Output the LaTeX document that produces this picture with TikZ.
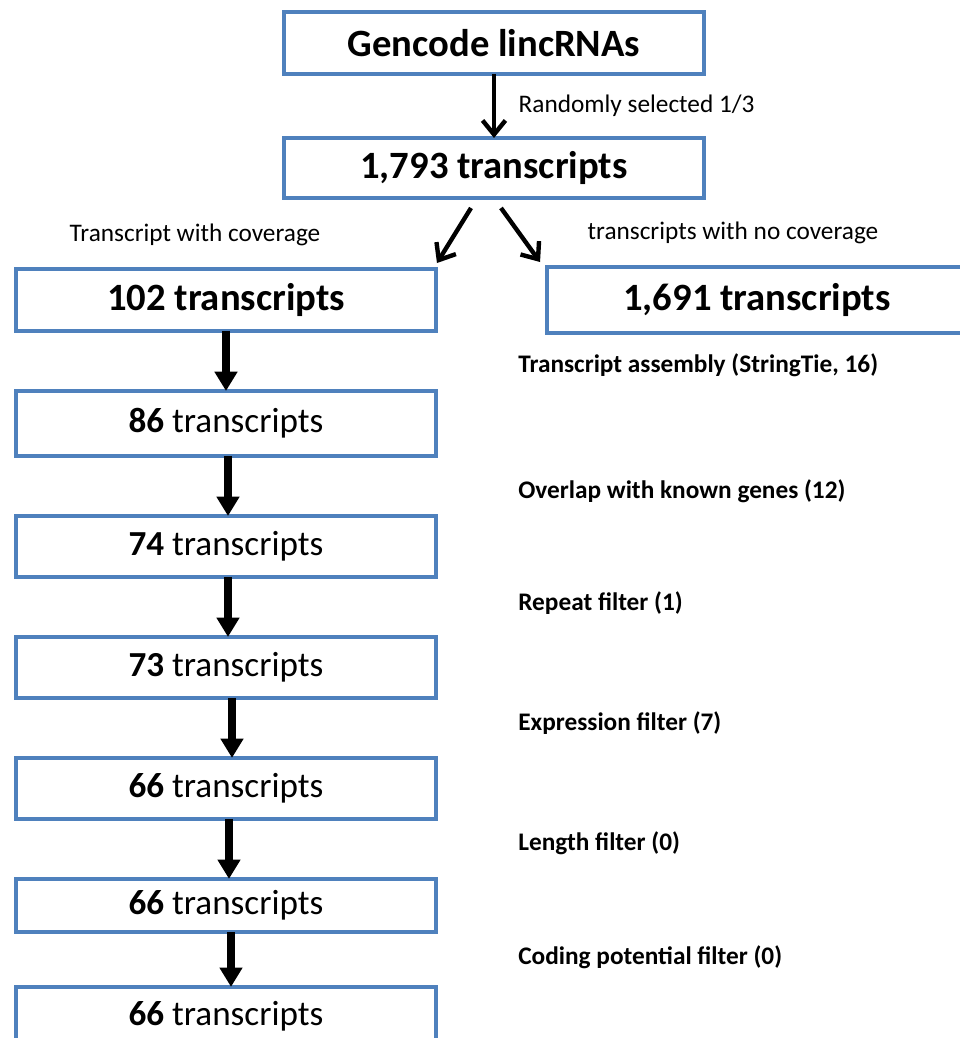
\documentclass[tikz,border=0pt]{standalone}
\usepackage{fontspec}
\setmainfont{Carlito}
\usepackage{tikz}
\usetikzlibrary{arrows.meta,positioning}
\definecolor{flBlue}{HTML}{4F81BD}
\definecolor{flInk}{HTML}{000000}
\tikzset{
  % Big bold box (top of the funnel)
  topbox/.style={rectangle,draw=flBlue,line width=2.3pt,fill=white,
    minimum width=8.4cm,minimum height=1.24cm,inner sep=0pt,outer sep=0pt,
    align=center,font=\fontsize{22}{26}\selectfont\bfseries,text=flInk},
  % Filter step box
  stepbox/.style={rectangle,draw=flBlue,line width=2.3pt,fill=white,
    minimum width=8.42cm,minimum height=1.22cm,inner sep=0pt,outer sep=0pt,
    align=center,font=\fontsize{20}{24}\selectfont,text=flInk},
  % Arrows
  thk/.style={-{Triangle[length=11pt,width=12.5pt]},line width=5pt,color=flInk},
  thn/.style={-{Straight Barb[length=8pt,width=13pt]},line width=2.5pt,color=flInk},
  % Texts beside the boxes
  lbl/.style={anchor=west,inner sep=0pt,font=\fontsize{14.4}{17}\selectfont\bfseries},
  note/.style={inner sep=0pt,font=\fontsize{14.4}{17}\selectfont},
}
\begin{document}
\begin{tikzpicture}[x=0.02cm,y=-0.02cm,node distance=1.2cm]
  \clip (0,0) rectangle (960,1038);
  \fill[white] (0,0) rectangle (960,1038);

  \node[topbox] (gen) at (494,43) {Gencode lincRNAs};
  \node[topbox,below=1.28cm of gen,minimum height=1.2cm] (all) {1,793 transcripts};

  \node[topbox] (cov) at (226,300) {102 transcripts};
  \node[topbox,minimum height=1.32cm] (nocov) at (757,300) {1,691 transcripts};

  \node[stepbox,below=of cov,minimum height=1.3cm] (s86) {\textbf{86} transcripts};
  \node[stepbox,below=of s86] (s74) {\textbf{74} transcripts};
  \node[stepbox,below=of s74] (s73) {\textbf{73} transcripts};
  \node[stepbox,below=of s73] (s66a) {\textbf{66} transcripts};
  \node[stepbox,below=of s66a,minimum height=1.06cm] (s66b) {\textbf{66} transcripts};
  \node[stepbox,below=1.1cm of s66b,minimum height=1.16cm] (s66c) {\textbf{66} transcripts};

  \node[note] (ncov) at (195,235) {Transcript with coverage};
  \node[note] (nnocov) at (733,233) {transcripts with no coverage};

  \node[lbl] (lasm) at (518,365) {Transcript assembly (StringTie, 16)};
  \node[lbl] (lovl) at (518,491) {Overlap with known genes (12)};
  \node[lbl] (lrep) at (518,603) {Repeat filter (1)};
  \node[lbl] (lexp) at (518,723) {Expression filter (7)};
  \node[lbl] (llen) at (518,843) {Length filter (0)};
  \node[lbl] (lcod) at (518,957) {Coding potential filter (0)};

  \draw[thn] (gen) -- node[note,right=0.45cm] {Randomly selected 1/3} (all);
  \draw[thn] ([shift={(-0.46cm,-0.2cm)}]all.south) -- ([shift={(0.02cm,0.12cm)}]cov.north east);
  \draw[thn] ([shift={(0.14cm,-0.2cm)}]all.south) -- ([shift={(-0.14cm,0.1cm)}]nocov.north west);

  \draw[thk] (cov) -- (s86);
  \draw[thk] ([xshift=0.04cm]s86.south) -- ([xshift=0.04cm]s74.north);
  \draw[thk] ([xshift=0.04cm]s74.south) -- ([xshift=0.04cm]s73.north);
  \draw[thk] ([xshift=0.12cm]s73.south) -- ([xshift=0.12cm]s66a.north);
  \draw[thk] ([xshift=0.06cm]s66a.south) -- ([xshift=0.06cm]s66b.north);
  \draw[thk] ([xshift=0.1cm]s66b.south) -- ([xshift=0.1cm]s66c.north);
\end{tikzpicture}
\end{document}
